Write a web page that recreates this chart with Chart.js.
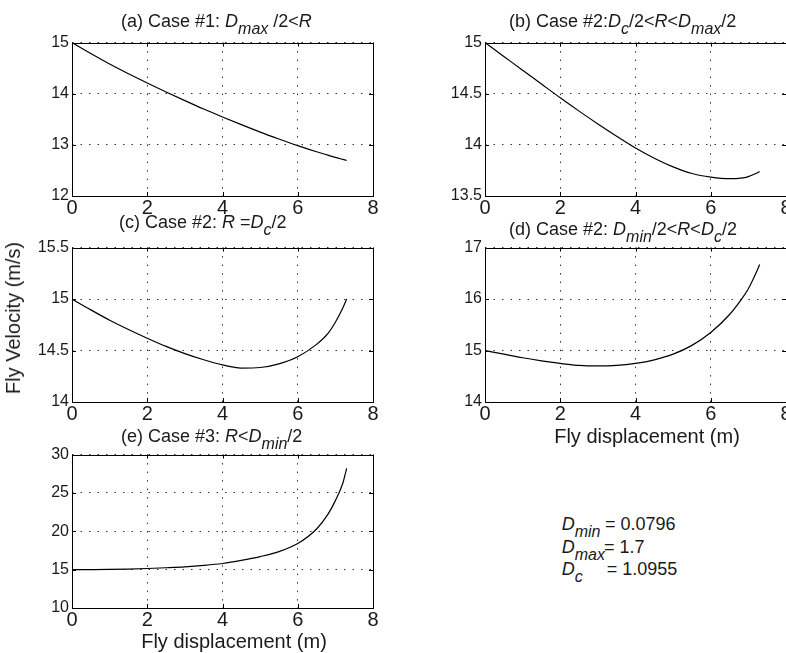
<!DOCTYPE html>
<html>
<head>
<meta charset="utf-8">
<script src="https://cdn.jsdelivr.net/npm/chart.js@4.4.1/dist/chart.umd.min.js"></script>
<style>
  html, body { margin: 0; padding: 0; background: #fff; overflow: hidden; width: 786px; height: 653px; }
  body { position: relative; font-family: "Liberation Sans", Arial, sans-serif; color: #1a1a1a; }
  canvas { position: absolute; }
  .txt { position: absolute; white-space: nowrap; line-height: 1; }
  .t18 { font-size: 18px; }
  .t20 { font-size: 20px; }
  .sb { position: relative; top: 7px; font-size: 16px; font-style: italic; }
</style>
</head>
<body>
<canvas id="pa" width="363" height="190"></canvas>
<canvas id="pb" width="363" height="190"></canvas>
<canvas id="pc" width="363" height="191"></canvas>
<canvas id="pd" width="363" height="191"></canvas>
<canvas id="pe" width="363" height="190"></canvas>

<!-- titles (baseline - 15.2 for 18px text) -->
<div class="txt t18" style="left:121px; top:11.5px;">(a) Case #1: <i>D</i><span class="sb">max</span> /2&lt;<i>R</i></div>
<div class="txt t18" style="left:509px; top:11.5px;">(b) Case #2:<i>D</i><span class="sb">c</span>/2&lt;<i>R</i>&lt;<i>D</i><span class="sb">max</span>/2</div>
<div class="txt t18" style="left:119px; top:212.5px;">(c) Case #2: <i>R</i> =<i>D</i><span class="sb">c</span>/2</div>
<div class="txt t18" style="left:509px; top:219.5px;">(d) Case #2: <i>D</i><span class="sb">min</span>/2&lt;<i>R</i>&lt;<i>D</i><span class="sb">c</span>/2</div>
<div class="txt t18" style="left:121px; top:426.5px;">(e) Case #3: <i>R</i>&lt;<i>D</i><span class="sb">min</span>/2</div>

<!-- axis labels -->
<div class="txt t20" style="left:12.5px; top:317.5px; transform:translate(-50%,-50%) rotate(-90deg);">Fly Velocity (m/s)</div>
<div class="txt t20" style="left:647px; top:425.5px; transform:translateX(-50%);">Fly displacement (m)</div>
<div class="txt t20" style="left:234px; top:631.4px; transform:translateX(-50%);">Fly displacement (m)</div>

<!-- constants -->
<div class="txt t18" style="left:561.7px; top:514.8px;"><i>D</i><span class="sb">min</span></div>
<div class="txt t18" style="left:605px; top:514.8px;">= 0.0796</div>
<div class="txt t18" style="left:561.7px; top:537.8px;"><i>D</i><span class="sb">max</span></div>
<div class="txt t18" style="left:604px; top:537.8px;">= 1.7</div>
<div class="txt t18" style="left:561.7px; top:559.8px;"><i>D</i><span class="sb">c</span></div>
<div class="txt t18" style="left:606.7px; top:559.8px;">= 1.0955</div>

<script>
// fly displacement (m)
const xDisp = [0, 0.5, 1, 1.5, 2, 2.5, 3, 3.5, 4, 4.5, 5, 5.5, 6, 6.5, 6.8, 7, 7.2, 7.3];

// fly velocity (m/s) for each case
const velA = [15, 14.785, 14.58, 14.39, 14.21, 14.035, 13.865, 13.70, 13.545, 13.395, 13.25, 13.115, 12.985, 12.865, 12.80, 12.755, 12.715, 12.695];
const velB = [15, 14.865, 14.73, 14.595, 14.46, 14.33, 14.205, 14.085, 13.97, 13.87, 13.785, 13.72, 13.685, 13.67, 13.675, 13.69, 13.72, 13.74];
const velC = [15, 14.895, 14.795, 14.705, 14.62, 14.54, 14.47, 14.41, 14.36, 14.33, 14.335, 14.37, 14.44, 14.56, 14.665, 14.775, 14.915, 15.0];
const velD = [15, 14.93, 14.86, 14.80, 14.75, 14.71, 14.70, 14.71, 14.75, 14.82, 14.93, 15.10, 15.35, 15.70, 15.98, 16.2, 16.5, 16.67];
const velE = [15, 15.01, 15.03, 15.08, 15.15, 15.25, 15.37, 15.55, 15.8, 16.2, 16.7, 17.35, 18.4, 20.3, 22.2, 24.0, 26.3, 28.2];

// y axis ranges [min, max, step]
const yRangeA = [12, 15, 1];
const yRangeB = [13.5, 15, 0.5];
const yRangeC = [14, 15.5, 0.5];
const yRangeD = [14, 17, 1];
const yRangeE = [10, 30, 5];

const FONT = '"Liberation Sans", Arial, sans-serif';
const PAD_L = 50, PAD_T = 12, PAD_R = 12, PAD_B = 24;

// matlab style box with inward ticks
const boxPlugin = {
  id: 'box',
  afterDraw(chart) {
    const { ctx, chartArea: a, scales } = chart;
    ctx.save();
    ctx.strokeStyle = '#000';
    ctx.lineWidth = 1;
    ctx.beginPath();
    scales.x.ticks.forEach(t => {
      const px = Math.round(scales.x.getPixelForValue(t.value)) + 0.5;
      ctx.moveTo(px, a.bottom); ctx.lineTo(px, a.bottom - 4);
      ctx.moveTo(px, a.top); ctx.lineTo(px, a.top + 4);
    });
    scales.y.ticks.forEach(t => {
      const py = Math.round(scales.y.getPixelForValue(t.value)) + 0.5;
      ctx.moveTo(a.left, py); ctx.lineTo(a.left + 4, py);
      ctx.moveTo(a.right, py); ctx.lineTo(a.right - 4, py);
    });
    ctx.stroke();
    ctx.strokeRect(Math.round(a.left) + 0.5, Math.round(a.top) + 0.5,
      Math.round(a.right - a.left), Math.round(a.bottom - a.top));
    ctx.restore();
  }
};

function makePanel(id, area, yRange, vals) {
  const cv = document.getElementById(id);
  cv.style.left = (area.l - PAD_L) + 'px';
  cv.style.top = (area.t - PAD_T) + 'px';
  cv.width = area.r - area.l + PAD_L + PAD_R;
  cv.height = area.b - area.t + PAD_T + PAD_B;

  const gridOpts = { color: '#333', drawTicks: false, lineWidth: 1 };
  return new Chart(cv.getContext('2d'), {
    type: 'line',
    data: {
      datasets: [{
        data: xDisp.map((x, i) => ({ x: x, y: vals[i] })),
        borderColor: '#000',
        borderWidth: 1.2,
        pointRadius: 0,
        fill: false,
        cubicInterpolationMode: 'monotone'
      }]
    },
    options: {
      responsive: false,
      animation: false,
      events: [],
      layout: { padding: { top: PAD_T, right: PAD_R, left: 0, bottom: 0 } },
      plugins: { legend: { display: false }, tooltip: { enabled: false } },
      scales: {
        x: {
          type: 'linear', min: 0, max: 8,
          ticks: { stepSize: 2, padding: 0, maxRotation: 0, color: '#1a1a1a',
                   font: { family: FONT, size: 20 }, callback: v => String(v) },
          grid: gridOpts,
          border: { display: false, dash: [1.5, 7] },
          afterFit: s => { s.height = PAD_B; }
        },
        y: {
          type: 'linear', min: yRange[0], max: yRange[1],
          ticks: { stepSize: yRange[2], padding: 3, color: '#1a1a1a',
                   font: { family: FONT, size: 16 }, callback: v => String(+v.toFixed(2)) },
          grid: gridOpts,
          border: { display: false, dash: [1.5, 7] },
          afterFit: s => { s.width = PAD_L; }
        }
      }
    },
    plugins: [boxPlugin]
  });
}

makePanel('pa', { l: 72, t: 42, r: 373, b: 196 }, yRangeA, velA);
makePanel('pb', { l: 485, t: 42, r: 786, b: 196 }, yRangeB, velB);
makePanel('pc', { l: 72, t: 247, r: 373, b: 402 }, yRangeC, velC);
makePanel('pd', { l: 485, t: 247, r: 786, b: 402 }, yRangeD, velD);
makePanel('pe', { l: 72, t: 454, r: 373, b: 608 }, yRangeE, velE);
</script>
</body>
</html>
